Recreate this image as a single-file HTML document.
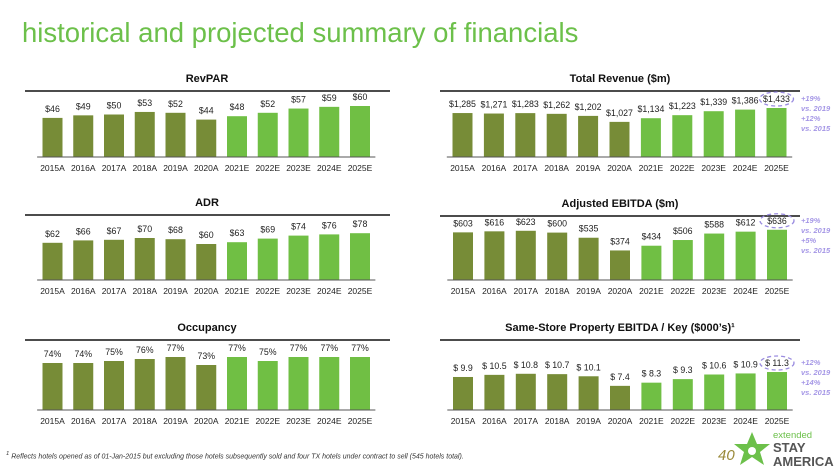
<!DOCTYPE html>
<html><head><meta charset="utf-8"><style>
body{margin:0;width:840px;height:473px;background:#fff;overflow:hidden;font-family:"Liberation Sans",sans-serif;position:relative}
#title{position:absolute;left:22px;top:17px;font-size:27.5px;color:#6cc04a;white-space:nowrap}
#foot{position:absolute;left:6px;top:451px;font-size:7px;font-style:italic;color:#333}
#pg{position:absolute;left:718px;top:447px;font-size:15px;font-style:italic;color:#9a8a3a}
</style></head><body>
<div id="title">historical and projected summary of financials</div>
<div id="foot"><sup>1</sup> Reflects hotels opened as of 01-Jan-2015 but excluding those hotels subsequently sold and four TX hotels under contract to sell (545 hotels total).</div>
<div id="pg">40</div>
<svg id="s" width="840" height="473" style="position:absolute;left:0;top:0"></svg>
<script>
const categories=["2015A","2016A","2017A","2018A","2019A","2020A","2021E","2022E","2023E","2024E","2025E"];
const revparValues=[46,49,50,53,52,44,48,52,57,59,60];
const revparLabels=["$46","$49","$50","$53","$52","$44","$48","$52","$57","$59","$60"];
const adrValues=[62,66,67,70,68,60,63,69,74,76,78];
const adrLabels=["$62","$66","$67","$70","$68","$60","$63","$69","$74","$76","$78"];
const occValues=[74,74,75,76,77,73,77,75,77,77,77];
const occLabels=["74%","74%","75%","76%","77%","73%","77%","75%","77%","77%","77%"];
const revValues=[1285,1271,1283,1262,1202,1027,1134,1223,1339,1386,1433];
const revLabels=["$1,285","$1,271","$1,283","$1,262","$1,202","$1,027","$1,134","$1,223","$1,339","$1,386","$1,433"];
const ebitdaValues=[603,616,623,600,535,374,434,506,588,612,636];
const ebitdaLabels=["$603","$616","$623","$600","$535","$374","$434","$506","$588","$612","$636"];
const keyValues=[9.9,10.5,10.8,10.7,10.1,7.4,8.3,9.3,10.6,10.9,11.3];
const keyLabels=["$ 9.9","$ 10.5","$ 10.8","$ 10.7","$ 10.1","$ 7.4","$ 8.3","$ 9.3","$ 10.6","$ 10.9","$ 11.3"];
const NS="http://www.w3.org/2000/svg",S=document.getElementById('s');
function mk(t,a,p){const e=document.createElementNS(NS,t);for(const k in a)e.setAttribute(k,a[k]);(p||S).appendChild(e);return e;}
function panel(name,title,tx,ty,lx1,lx2,base,x0,step,vals,labels,yfn,note){
  const g=mk('g',{});
  
  
  const t=mk('text',{x:tx,y:ty,'text-anchor':'middle','font-size':11,'font-weight':'bold',fill:'#111'},g);t.textContent=title;
  
  
  const l=mk('line',{x1:lx1,x2:lx2,y1:ty+9,y2:ty+9,stroke:'#111','stroke-width':1.5},g);
  
  
  vals.forEach((v,i)=>{
    const cx=x0+i*step,h=yfn(v);
    const r=mk('rect',{x:cx-10,y:base-h,width:20,height:h,fill:i<6?'#778c37':'#70bf44'},g);
    
    
    const vt=mk('text',{x:cx,y:base-h-6,'text-anchor':'middle','font-size':8.8,fill:'#222'},g);vt.textContent=labels[i];
    
    
    const ct=mk('text',{x:cx,y:base+14,'text-anchor':'middle','font-size':8.5,fill:'#222'},g);ct.textContent=categories[i];
    
    
  });
  const ax=mk('line',{x1:x0-step/2,x2:x0+10.5*step,y1:base,y2:base,stroke:'#555','stroke-width':1},g);
  
  
  if(note){
    const cx=x0+10*step,h=yfn(vals[10]);
    const el=mk('ellipse',{cx:cx,cy:base-h-9,rx:17,ry:7,fill:'none',stroke:'#9b8de0','stroke-width':1.3,'stroke-dasharray':'4 3'},g);
    
    
    note.forEach((s,k)=>{const n=mk('text',{x:801,y:base-h-7+k*10,'font-size':7.5,'font-style':'italic','font-weight':'bold',fill:'#a597e6'},g);n.textContent=s;
      
      });
  }
}
panel('revpar','RevPAR',207,82,25,390,157,52.5,30.75,revparValues,revparLabels,v=>v*0.85);
panel('adr','ADR',207,206,25,390,280,52.5,30.75,adrValues,adrLabels,v=>v*0.6);
panel('occupancy','Occupancy',207,331,25,390,410,52.5,30.75,occValues,occLabels,v=>2*(v-50.5));
panel('total-revenue','Total Revenue ($m)',620,82,440,800,157,462.5,31.4,revValues,revLabels,v=>v*0.0342,['+19%','vs. 2019','+12%','vs. 2015']);
panel('adjusted-ebitda','Adjusted EBITDA ($m)',620,207,440,800,280,463,31.4,ebitdaValues,ebitdaLabels,v=>v*0.079,['+19%','vs. 2019','+5%','vs. 2015']);
panel('ebitda-per-key','Same-Store Property EBITDA / Key ($000\u2019s)\u00b9',620,331,440,800,410,463,31.4,keyValues,keyLabels,v=>3.55*(v-0.6),['+12%','vs. 2019','+14%','vs. 2015']);
// logo
const lg=mk('g',{});


mk('polygon',{points:'752,432 757,444 770,444 760,452 764,465 752,457 740,465 744,452 734,444 747,444',fill:'#6cc04a'},lg);
mk('circle',{cx:752,cy:451,r:4,fill:'#fff'},lg);
const t1=mk('text',{x:773,y:438,'font-size':9.5,fill:'#6cc04a'},lg);t1.textContent='extended';
const t2=mk('text',{x:773,y:452,'font-size':13,fill:'#555','font-weight':'bold'},lg);t2.textContent='STAY';
const t3=mk('text',{x:773,y:466,'font-size':13,fill:'#555','font-weight':'bold'},lg);t3.textContent='AMERICA';
</script>
</body></html>
